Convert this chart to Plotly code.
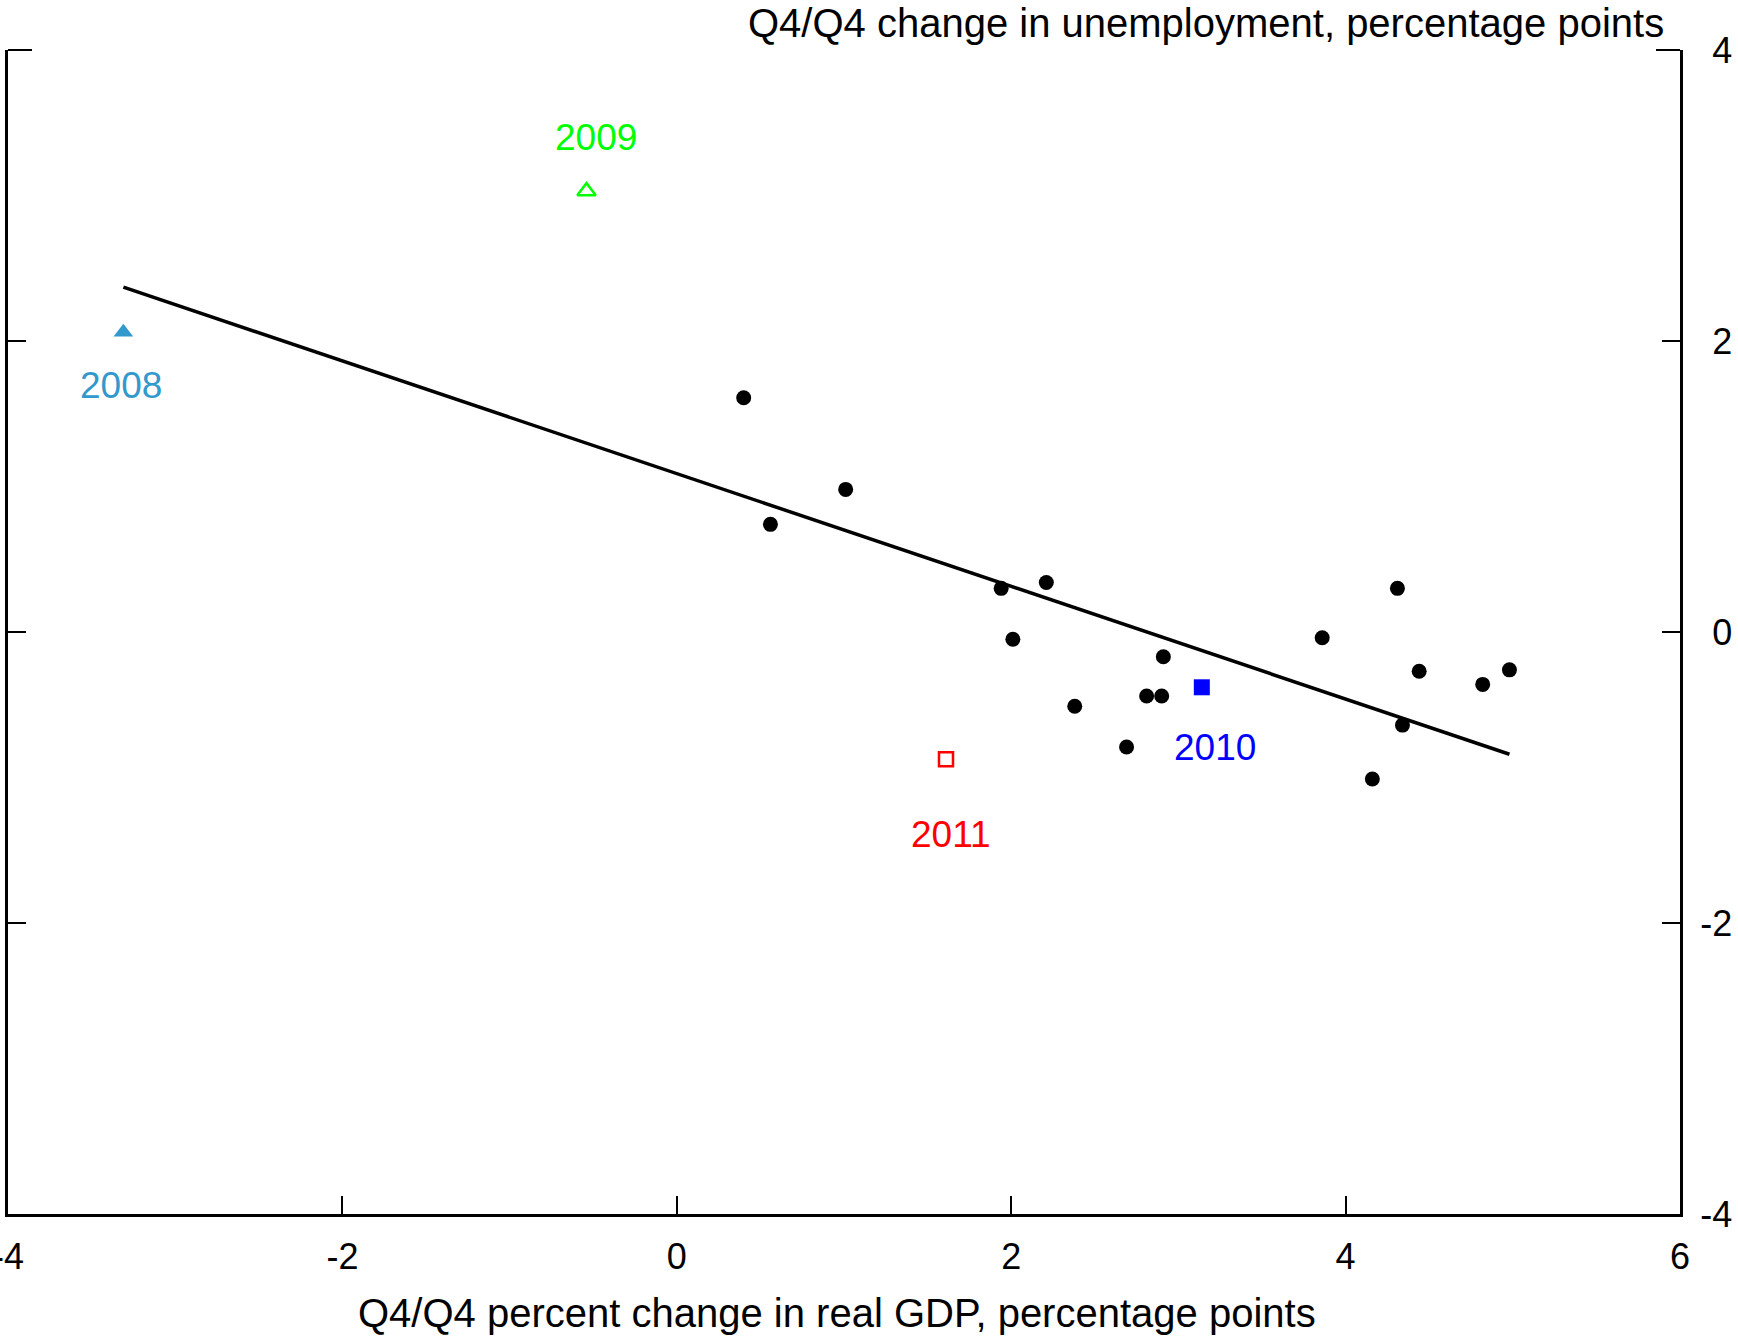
import plotly.graph_objects as go

# Black dots: other years
gdp_other = [0.40, 1.01, 0.56, 1.94, 2.21, 2.01, 2.38, 2.69, 2.81, 2.90, 2.91,
             3.86, 4.31, 4.44, 4.98, 4.82, 4.34, 4.16]
unemp_other = [1.61, 0.98, 0.74, 0.30, 0.34, -0.05, -0.51, -0.79, -0.44, -0.44,
               -0.17, -0.04, 0.30, -0.27, -0.26, -0.36, -0.64, -1.01]

# Highlighted years
years = ["2008", "2009", "2010", "2011"]
gdp_years = [-3.31, -0.54, 3.14, 1.61]
unemp_years = [2.06, 3.03, -0.38, -0.875]

# Fitted line endpoints
fit_x = [-3.31, 4.98]
fit_y = [2.37, -0.84]

x_ticks = [-4, -2, 0, 2, 4, 6]
y_ticks = [-4, -2, 0, 2, 4]

FONT = "Liberation Sans, Arial, sans-serif"
FS_TICK = 36
FS_LABEL = 37
FS_TITLE = 40

year_styles = {
    "2008": dict(symbol="triangle-up", color="#3399CC", size=17, line=dict(width=0), xs=-2, ys=-53),
    "2009": dict(symbol="triangle-up-open", color="#00FF00", size=16, line=dict(width=2.5, color="#00FF00"), xs=9, ys=54),
    "2010": dict(symbol="square", color="#0000FF", size=16, line=dict(width=0), xs=13, ys=-60),
    "2011": dict(symbol="square-open", color="#FF0000", size=14, line=dict(width=2.5, color="#FF0000"), xs=5, ys=-75),
}

fig = go.Figure()

fig.add_trace(go.Scatter(x=fit_x, y=fit_y, mode="lines",
                         line=dict(color="black", width=3.5), showlegend=False))

fig.add_trace(go.Scatter(x=gdp_other, y=unemp_other, mode="markers",
                         marker=dict(symbol="circle", color="black", size=15),
                         showlegend=False))

annotations = []
for yr, gx, uy in zip(years, gdp_years, unemp_years):
    st = year_styles[yr]
    fig.add_trace(go.Scatter(x=[gx], y=[uy], mode="markers", showlegend=False,
                             marker=dict(symbol=st["symbol"], color=st["color"],
                                         size=st["size"], line=st["line"])))
    annotations.append(dict(x=gx, y=uy, xref="x", yref="y", text=yr, showarrow=False,
                            xshift=st["xs"], yshift=st["ys"],
                            font=dict(family=FONT, size=FS_LABEL, color=st["color"])))

annotations.append(dict(x=0.9916, y=1.0235, xref="paper", yref="paper",
                        xanchor="right", yanchor="middle", showarrow=False,
                        text="Q4/Q4 change in unemployment, percentage points",
                        font=dict(family=FONT, size=FS_TITLE, color="black")))
annotations.append(dict(x=0.496, y=-0.085, xref="paper", yref="paper",
                        xanchor="center", yanchor="middle", showarrow=False,
                        text="Q4/Q4 percent change in real GDP, percentage points",
                        font=dict(family=FONT, size=FS_TITLE, color="black")))

# slightly longer horizontal segments at the top corners of the frame
corner = 24 / 1672.5
shapes = [
    dict(type="line", xref="paper", yref="paper", x0=0, x1=corner, y0=1, y1=1,
         line=dict(color="black", width=2)),
    dict(type="line", xref="paper", yref="paper", x0=1 - corner, x1=1, y0=1, y1=1,
         line=dict(color="black", width=2)),
]

# right-align the y tick labels: invisible minus sign in front of non-negative values
HIDDEN_MINUS = "<span style='color:rgba(0,0,0,0)'>-</span>"
y_ticktext = [str(v) if v < 0 else HIDDEN_MINUS + str(v) for v in y_ticks]

fig.update_layout(
    width=1738, height=1336,
    margin=dict(l=7.5, r=58, t=50, b=122, autoexpand=False),
    plot_bgcolor="white", paper_bgcolor="white",
    font=dict(family=FONT, size=FS_TICK, color="black"),
    annotations=annotations,
    shapes=shapes,
    xaxis=dict(range=[-4, 6], tickvals=x_ticks, ticktext=[str(v) for v in x_ticks],
               ticks="inside", ticklen=18, tickwidth=2, tickcolor="black",
               showline=True, linewidth=3, linecolor="black", mirror=False,
               showgrid=False, zeroline=False, ticklabelstandoff=9,
               ticklabeloverflow="allow",
               tickfont=dict(family=FONT, size=FS_TICK, color="black")),
    yaxis=dict(range=[-4, 4], tickvals=y_ticks, ticktext=y_ticktext,
               side="right", ticks="inside", ticklen=18, tickwidth=2, tickcolor="black",
               showline=True, linewidth=3, linecolor="black", mirror="ticks",
               showgrid=False, zeroline=False, ticklabelstandoff=10,
               ticklabeloverflow="allow",
               tickfont=dict(family=FONT, size=FS_TICK, color="black")),
)

fig.write_html("out.html",
               config={"displayModeBar": False},
               post_script="document.body.style.margin='0';document.body.style.overflow='hidden';")
